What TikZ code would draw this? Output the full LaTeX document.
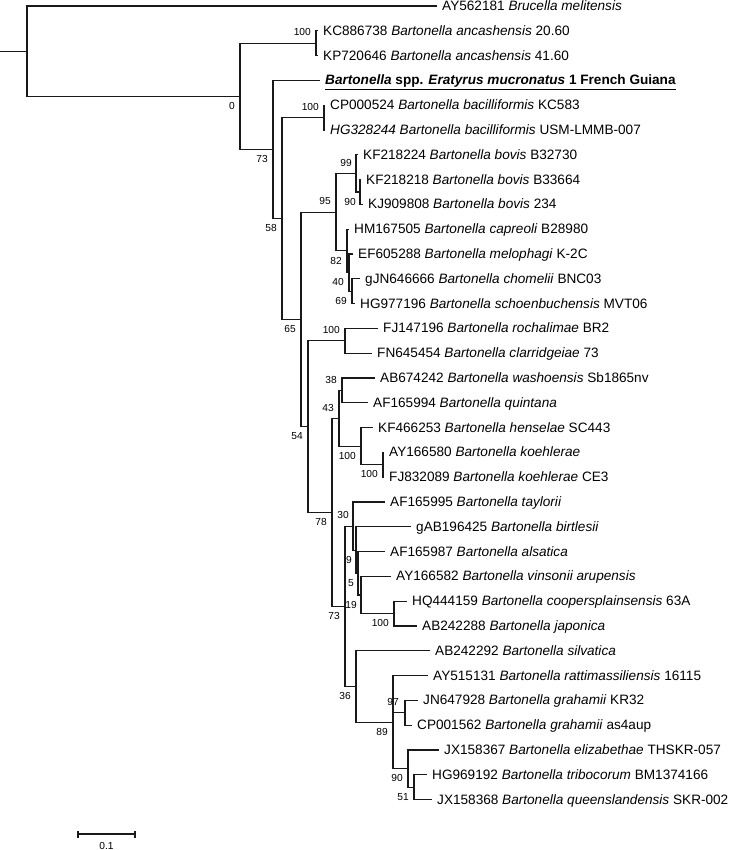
\documentclass[tikz,border=0pt]{standalone}
\usepackage{fontspec}
\setmainfont{Liberation Sans}
\usetikzlibrary{calc}
\begin{document}
\begin{tikzpicture}[x=1pt,y=-1pt,
  br/.style={line width=1.05pt, draw=black!90},
  leaf/.style={anchor=west, inner xsep=5pt, inner ysep=0pt, font=\fontsize{13.6}{15}\selectfont, text height=9.7pt, text depth=0.6pt},
  bsa/.style={anchor=base east, inner sep=0pt, font=\fontsize{10.2}{12}\selectfont},
  bsb/.style={anchor=base east, inner sep=0pt, font=\fontsize{10.2}{12}\selectfont}]
\useasboundingbox (0,0) rectangle (728,850);
% internal nodes
\coordinate (stub) at (0,51.16);
\coordinate (root) at (27,51.16);
\coordinate (A) at (240,96.32);
\coordinate (anc) at (316,43.2);
\coordinate (B) at (273,149.43);
\coordinate (C) at (282,218.47);
\coordinate (bac) at (324,117.6);
\coordinate (D) at (301,319.34);
\coordinate (E) at (336,212.15);
\coordinate (bov) at (356,173.4);
\coordinate (bovA) at (360,192);
\coordinate (cap) at (347,250.9);
\coordinate (G) at (349,272.6);
\coordinate (H) at (352,291.2);
\coordinate (F) at (308,426.53);
\coordinate (roch) at (345,340.8);
\coordinate (I) at (332,512.27);
\coordinate (J) at (339,418.3);
\coordinate (L) at (342,390.4);
\coordinate (M) at (361,446.2);
\coordinate (N) at (383,464.8);
\coordinate (K) at (345,606.24);
\coordinate (O) at (353,526.03);
\coordinate (Q) at (356,550.05);
\coordinate (R) at (358,573.3);
\coordinate (S) at (361,595);
\coordinate (T) at (394,613.6);
\coordinate (P) at (356,686.45);
\coordinate (U) at (393,722.1);
\coordinate (V) at (405,712.8);
\coordinate (X) at (408,768.6);
\coordinate (Z) at (414,787.2);
% leaves
\node[leaf] (l0) at (437,6) {AY562181 \textit{Brucella melitensis}};
\node[leaf] (l1) at (318,30.8) {KC886738 \textit{Bartonella ancashensis} 20.60};
\node[leaf] (l2) at (318,55.6) {KP720646 \textit{Bartonella ancashensis} 41.60};
\node[leaf] (l3) at (320,80.4) {\underline{\textbf{\textit{Bartonella} spp. \textit{Eratyrus mucronatus} 1 French Guiana}}};
\node[leaf] (l4) at (325,105.2) {CP000524 \textit{Bartonella bacilliformis} KC583};
\node[leaf] (l5) at (325,130) {\textit{HG328244 Bartonella bacilliformis} USM-LMMB-007};
\node[leaf] (l6) at (358,154.8) {KF218224 \textit{Bartonella bovis} B32730};
\node[leaf] (l7) at (361,179.6) {KF218218 \textit{Bartonella bovis} B33664};
\node[leaf] (l8) at (363,204.4) {KJ909808 \textit{Bartonella bovis} 234};
\node[leaf] (l9) at (349,229.2) {HM167505 \textit{Bartonella capreoli} B28980};
\node[leaf] (l10) at (353,254) {EF605288 \textit{Bartonella melophagi} K-2C};
\node[leaf] (l11) at (360,278.8) {gJN646666 \textit{Bartonella chomelii} BNC03};
\node[leaf] (l12) at (355,303.6) {HG977196 \textit{Bartonella schoenbuchensis} MVT06};
\node[leaf] (l13) at (378,328.4) {FJ147196 \textit{Bartonella rochalimae} BR2};
\node[leaf] (l14) at (372,353.2) {FN645454 \textit{Bartonella clarridgeiae} 73};
\node[leaf] (l15) at (375,378) {AB674242 \textit{Bartonella washoensis} Sb1865nv};
\node[leaf] (l16) at (368,402.8) {AF165994 \textit{Bartonella quintana}};
\node[leaf] (l17) at (373,427.6) {KF466253 \textit{Bartonella henselae} SC443};
\node[leaf] (l18) at (384,452.4) {AY166580 \textit{Bartonella koehlerae}};
\node[leaf] (l19) at (384,477.2) {FJ832089 \textit{Bartonella koehlerae} CE3};
\node[leaf] (l20) at (385,502) {AF165995 \textit{Bartonella taylorii}};
\node[leaf] (l21) at (411,526.8) {gAB196425 \textit{Bartonella birtlesii}};
\node[leaf] (l22) at (385,551.6) {AF165987 \textit{Bartonella alsatica}};
\node[leaf] (l23) at (391,576.4) {AY166582 \textit{Bartonella vinsonii arupensis}};
\node[leaf] (l24) at (407,601.2) {HQ444159 \textit{Bartonella coopersplainsensis} 63A};
\node[leaf] (l25) at (417,626) {AB242288 \textit{Bartonella japonica}};
\node[leaf] (l26) at (430,650.8) {AB242292 \textit{Bartonella silvatica}};
\node[leaf] (l27) at (428,675.6) {AY515131 \textit{Bartonella rattimassiliensis} 16115};
\node[leaf] (l28) at (418,700.4) {JN647928 \textit{Bartonella grahamii} KR32};
\node[leaf] (l29) at (412,725.2) {CP001562 \textit{Bartonella grahamii} as4aup};
\node[leaf] (l30) at (439,750) {JX158367 \textit{Bartonella elizabethae} THSKR-057};
\node[leaf] (l31) at (427,774.8) {HG969192 \textit{Bartonella tribocorum} BM1374166};
\node[leaf] (l32) at (432,799.6) {JX158368 \textit{Bartonella queenslandensis} SKR-002};
% branches
\draw[br] (stub) -- (root);
\draw[br] (root) |- (l0.west);
\draw[br] (root) |- (A);
\draw[br] (A) |- (anc);
\draw[br] (anc) |- (l1.west);
\draw[br] (anc) |- (l2.west);
\draw[br] (A) |- (B);
\draw[br] (B) |- (l3.west);
\draw[br] (B) |- (C);
\draw[br] (C) |- (bac);
\draw[br] (bac) |- (l4.west);
\draw[br] (bac) |- (l5.west);
\draw[br] (C) |- (D);
\draw[br] (D) |- (E);
\draw[br] (E) |- (bov);
\draw[br] (bov) |- (l6.west);
\draw[br] (bov) |- (bovA);
\draw[br] (bovA) |- (l7.west);
\draw[br] (bovA) |- (l8.west);
\draw[br] (E) |- (cap);
\draw[br] (cap) |- (l9.west);
\draw[br] (cap) |- (G);
\draw[br] (G) |- (l10.west);
\draw[br] (G) |- (H);
\draw[br] (H) |- (l11.west);
\draw[br] (H) |- (l12.west);
\draw[br] (D) |- (F);
\draw[br] (F) |- (roch);
\draw[br] (roch) |- (l13.west);
\draw[br] (roch) |- (l14.west);
\draw[br] (F) |- (I);
\draw[br] (I) |- (J);
\draw[br] (J) |- (L);
\draw[br] (L) |- (l15.west);
\draw[br] (L) |- (l16.west);
\draw[br] (J) |- (M);
\draw[br] (M) |- (l17.west);
\draw[br] (M) |- (N);
\draw[br] (N) |- (l18.west);
\draw[br] (N) |- (l19.west);
\draw[br] (I) |- (K);
\draw[br] (K) |- (O);
\draw[br] (O) |- (l20.west);
\draw[br] (O) |- (Q);
\draw[br] (Q) |- (l21.west);
\draw[br] (Q) |- (R);
\draw[br] (R) |- (l22.west);
\draw[br] (R) |- (S);
\draw[br] (S) |- (l23.west);
\draw[br] (S) |- (T);
\draw[br] (T) |- (l24.west);
\draw[br] (T) |- (l25.west);
\draw[br] (K) |- (P);
\draw[br] (P) |- (l26.west);
\draw[br] (P) |- (U);
\draw[br] (U) |- (l27.west);
\draw[br] (U) |- (V);
\draw[br] (V) |- (l28.west);
\draw[br] (V) |- (l29.west);
\draw[br] (U) |- (X);
\draw[br] (X) |- (l30.west);
\draw[br] (X) |- (Z);
\draw[br] (Z) |- (l31.west);
\draw[br] (Z) |- (l32.west);
% bootstrap values
\node[bsa] (s1) at ([shift={(-5,-7.2)}]anc) {100};
\node[bsb] (s2) at ([shift={(-5,13.1)}]A) {0};
\node[bsb] (s3) at ([shift={(-5,13.1)}]B) {73};
\node[bsa] (s4) at ([shift={(-5,-7.2)}]bac) {100};
\node[bsb] (s5) at ([shift={(-5,13.1)}]C) {58};
\node[bsa] (s6) at ([shift={(-5,-7.2)}]E) {95};
\node[bsa] (s7) at ([shift={(-4,-7.2)}]bov) {99};
\node[bsb] (s8) at ([shift={(-4,13.1)}]bovA) {90};
\node[bsb] (s9) at ([shift={(-5,13.1)}]cap) {82};
\node[bsb] (s10) at ([shift={(-5,13.1)}]G) {40};
\node[bsb] (s11) at ([shift={(-5,13.1)}]H) {69};
\node[bsb] (s12) at ([shift={(-5,13.1)}]D) {65};
\node[bsa] (s13) at ([shift={(-5,-7.2)}]roch) {100};
\node[bsb] (s14) at ([shift={(-5,13.1)}]F) {54};
\node[bsa] (s15) at ([shift={(-5,-7.2)}]L) {38};
\node[bsa] (s16) at ([shift={(-5,-7.2)}]J) {43};
\node[bsb] (s17) at ([shift={(-5,13.1)}]M) {100};
\node[bsb] (s18) at ([shift={(-5,13.1)}]N) {100};
\node[bsb] (s19) at ([shift={(-5,13.1)}]I) {78};
\node[bsa] (s20) at ([shift={(-4,-7.2)}]O) {30};
\node[bsb] (s21) at ([shift={(-4,13.1)}]Q) {9};
\node[bsb] (s22) at ([shift={(-4,13.1)}]R) {5};
\node[bsb] (s23) at ([shift={(-4,13.1)}]S) {19};
\node[bsb] (s24) at ([shift={(-5,13.1)}]T) {100};
\node[bsb] (s25) at ([shift={(-5,13.1)}]K) {73};
\node[bsb] (s26) at ([shift={(-5,13.1)}]P) {36};
\node[bsa] (s27) at ([shift={(-6,-7.2)}]V) {97};
\node[bsb] (s28) at ([shift={(-5,13.1)}]U) {89};
\node[bsb] (s29) at ([shift={(-5,13.1)}]X) {90};
\node[bsb] (s30) at ([shift={(-5,13.1)}]Z) {51};
% scale bar
\coordinate (sbL) at (78,834);
\coordinate (sbR) at (135,834);
\draw[br] (sbL) -- (sbR);
\draw[br] ([yshift=-3.5]sbL) -- ([yshift=3.5]sbL);
\draw[br] ([yshift=-3.5]sbR) -- ([yshift=3.5]sbR);
\node[anchor=base, inner sep=0pt, font=\fontsize{10.2}{12}\selectfont] (sbt) at ([shift={(0,15.5)}]$(sbL)!0.5!(sbR)$) {0.1};
\end{tikzpicture}
\end{document}
